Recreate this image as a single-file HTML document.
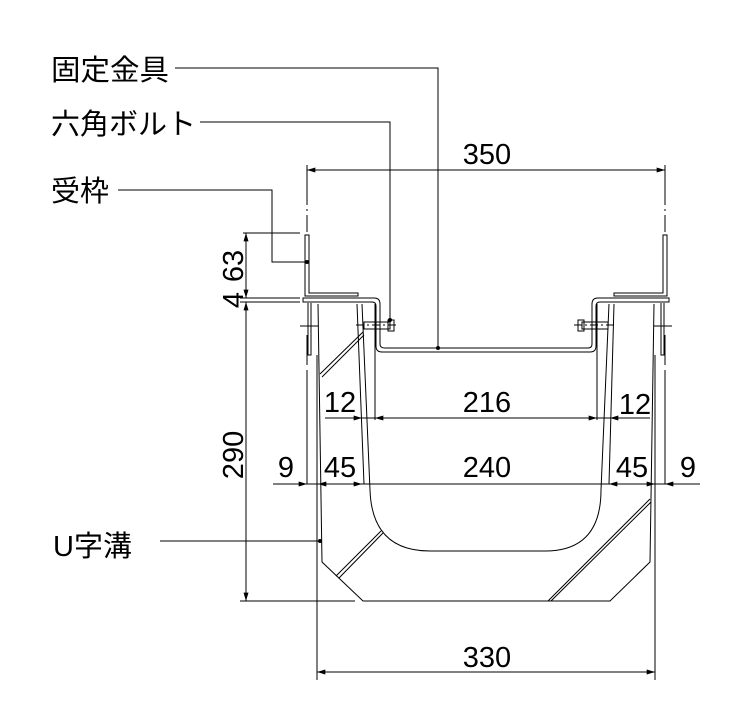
<!DOCTYPE html>
<html><head><meta charset="utf-8"><style>
html,body{margin:0;padding:0;background:#fff}
text{font-family:"Liberation Sans","Noto Sans CJK JP",sans-serif;fill:#000}
</style></head><body>
<svg width="750" height="715" viewBox="0 0 750 715" xmlns="http://www.w3.org/2000/svg">
<defs>
<marker id="a" viewBox="0 0 10 6" refX="10" refY="3" markerWidth="12" markerHeight="5" markerUnits="userSpaceOnUse" orient="auto-start-reverse"><path d="M0,0L10,3L0,6z" fill="#000"/></marker>
</defs>
<g stroke="#000" fill="none" stroke-width="1">
<line x1="307" y1="165" x2="307" y2="232" stroke-dasharray="40,4,2,4"/>
<line x1="665" y1="165" x2="665" y2="232" stroke-dasharray="40,4,2,4"/>
<line x1="307" y1="335" x2="307" y2="365"/>
<line x1="665" y1="335" x2="665" y2="365"/>
<line x1="307" y1="170" x2="665" y2="170" marker-start="url(#a)" marker-end="url(#a)"/>
<path d="M305,235 V296 H358 V293 H309 V235 Z"/>
<path d="M667,235 V296 H614 V293 H663 V235 Z"/>
<path d="M303,298 H374 Q380,298 380,304 V344 Q380,348 385,348 H588 Q592,348 592,344 V304 Q592,298 598,298 H669 V302 H600 Q596,302 596,306 V346 Q596,352 590,352 H382 Q376,352 376,346 V306 Q376,302 372,302 H303 Z"/>
<path d="M308,303 V355 H311 V303"/>
<path d="M664,303 V355 H661 V303"/>
<line x1="300" y1="326" x2="318" y2="326"/>
<line x1="654" y1="326" x2="672" y2="326"/>
<rect x="364" y="322" width="26" height="7"/>
<rect x="388" y="320" width="6" height="11"/>
<rect x="582" y="322" width="26" height="7"/>
<rect x="578" y="320" width="6" height="11"/>
<line x1="356" y1="325" x2="398" y2="325" stroke-dasharray="8,3,2,3"/>
<line x1="574" y1="325" x2="616" y2="325" stroke-dasharray="8,3,2,3"/>
<path d="M318,304 L322,562 L363,601 H610 L650,562 L654,304"/>
<path d="M362,304 L370,490 Q372,551 430,551 H545 Q601,551 601,490 L609,304"/>
<line x1="357" y1="304" x2="364" y2="484"/>
<line x1="375" y1="304" x2="375" y2="420"/>
<line x1="597" y1="304" x2="597" y2="420"/>
<line x1="614" y1="304" x2="609" y2="484"/>
<line x1="317" y1="355" x2="317" y2="680"/>
<line x1="655" y1="355" x2="655" y2="680"/>
<line x1="307" y1="370" x2="307" y2="484"/>
<line x1="665" y1="370" x2="665" y2="484"/>
<line x1="320" y1="374" x2="363" y2="332"/><line x1="322" y1="377" x2="364" y2="335"/>
<line x1="336" y1="576" x2="381" y2="531"/><line x1="339" y1="578" x2="383" y2="533"/>
<line x1="548" y1="601" x2="650" y2="499"/><line x1="551" y1="601" x2="651" y2="502"/>
<line x1="325" y1="418" x2="362" y2="418" marker-end="url(#a)"/>
<line x1="375" y1="418" x2="597" y2="418" marker-start="url(#a)" marker-end="url(#a)"/>
<line x1="650" y1="418" x2="610" y2="418" marker-end="url(#a)"/>
<line x1="362" y1="418" x2="375" y2="418"/>
<line x1="597" y1="418" x2="610" y2="418"/>
<line x1="273" y1="484" x2="700" y2="484"/>
<line x1="273" y1="484" x2="307" y2="484" marker-end="url(#a)"/>
<line x1="340" y1="484" x2="318" y2="484" marker-end="url(#a)"/>
<line x1="340" y1="484" x2="362" y2="484" marker-end="url(#a)"/>
<line x1="630" y1="484" x2="609" y2="484" marker-end="url(#a)"/>
<line x1="630" y1="484" x2="655" y2="484" marker-end="url(#a)"/>
<line x1="700" y1="484" x2="665" y2="484" marker-end="url(#a)"/>
<line x1="243" y1="233" x2="300" y2="233"/>
<line x1="240" y1="298" x2="300" y2="298"/>
<line x1="240" y1="302" x2="300" y2="302"/>
<line x1="240" y1="601" x2="355" y2="601"/>
<line x1="246" y1="233" x2="246" y2="298" marker-start="url(#a)" marker-end="url(#a)"/>
<line x1="246" y1="302" x2="246" y2="601" marker-start="url(#a)" marker-end="url(#a)"/>
<line x1="317" y1="672" x2="655" y2="672" marker-start="url(#a)" marker-end="url(#a)"/>
<path d="M175,68 H438 V348"/>
<path d="M200,122 H390 V320"/>
<path d="M118,190 H272 V262 H307"/>
<path d="M160,541 H320"/>
</g>
<g fill="#000">
<circle cx="438" cy="348" r="2"/><circle cx="390" cy="320" r="2"/><circle cx="307" cy="262" r="2"/><circle cx="320" cy="541" r="2"/>
</g>
<g font-size="29">
<text x="51" y="80" textLength="118" lengthAdjust="spacingAndGlyphs">固定金具</text>
<text x="51" y="134" textLength="145" lengthAdjust="spacingAndGlyphs">六角ボルト</text>
<text x="51" y="201">受枠</text>
<text x="53" y="556">U字溝</text>
<text x="487" y="164" text-anchor="middle">350</text>
<text x="487" y="667" text-anchor="middle">330</text>
<text x="487" y="412" text-anchor="middle">216</text>
<text x="340" y="412" text-anchor="middle">12</text>
<text x="635" y="414" text-anchor="middle">12</text>
<text x="487" y="477" text-anchor="middle">240</text>
<text x="286" y="477" text-anchor="middle">9</text>
<text x="340" y="477" text-anchor="middle">45</text>
<text x="632" y="477" text-anchor="middle">45</text>
<text x="688" y="477" text-anchor="middle">9</text>
<text transform="translate(243,455) rotate(-90)" text-anchor="middle">290</text>
<text transform="translate(243,266) rotate(-90)" text-anchor="middle">63</text>
<text transform="translate(243,300) rotate(-90)" text-anchor="middle">4</text>
</g>
</svg>
</body></html>
